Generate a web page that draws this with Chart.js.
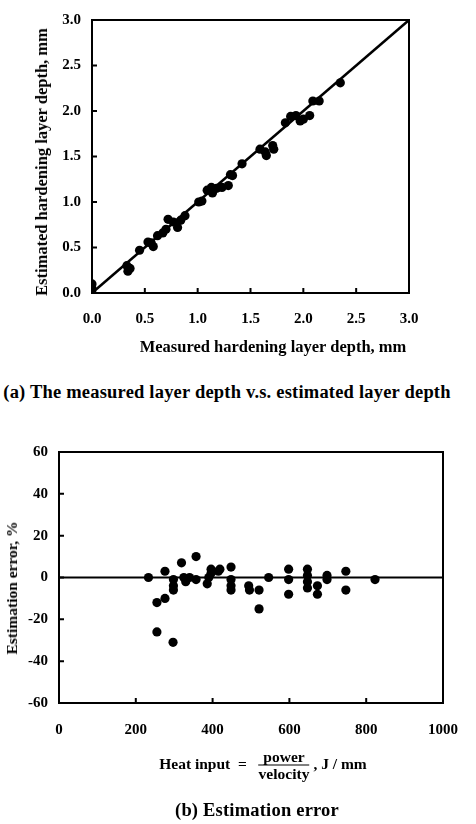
<!DOCTYPE html>
<html>
<head>
<meta charset="utf-8">
<script src="https://cdn.jsdelivr.net/npm/chart.js@4.4.1/dist/chart.umd.min.js"></script>
<style>
html, body { margin: 0; padding: 0; background: #fff; }
#page { position: relative; width: 476px; height: 824px; overflow: hidden;
  font-family: "Liberation Serif", "Times New Roman", serif; color: #000; }
.box { position: absolute; left: 0; }
.lbl { position: absolute; white-space: nowrap; transform: translate(-50%, -50%); font-weight: bold; }
.rot { transform: translate(-50%, -50%) rotate(-90deg); }
.cap { font-size: 18.5px; letter-spacing: 0.2px; }
.frac { display: inline-block; vertical-align: middle; text-align: center; margin: 0 4px; }
.frac span { display: block; line-height: 16px; }
.frac .num { border-bottom: 1.5px solid #000; padding: 0 3px; }
</style>
</head>
<body>
<div id="page">
  <div class="box" style="top:0"><canvas id="chartA" width="476" height="365"></canvas></div>
  <div class="box" style="top:430px"><canvas id="chartB" width="476" height="320"></canvas></div>

  <div class="lbl rot" style="left:42px; top:162px; font-size:16.5px">Estimated hardening layer depth, mm</div>
  <div class="lbl" style="left:273px; top:347px; font-size:16.5px">Measured hardening layer depth, mm</div>
  <div class="lbl cap" style="left:227px; top:392px">(a) The measured layer depth v.s. estimated layer depth</div>

  <div class="lbl rot" style="left:12px; top:588px; font-size:15.5px">Estimation error, %</div>
  <div class="lbl" style="left:263px; top:765px; font-size:15.5px">Heat input &nbsp;=&nbsp; <span class="frac"><span class="num">power</span><span>velocity</span></span>, J / mm</div>
  <div class="lbl cap" style="left:257px; top:810px">(b) Estimation error</div>
</div>
<script>
// (a) measured vs estimated hardening layer depth, mm
var measured  = [0, 0, 0, 0.33, 0.34, 0.36, 0.45, 0.53, 0.58, 0.56, 0.62, 0.67, 0.70,
  0.72, 0.77, 0.81, 0.84, 0.88, 1.01, 1.04, 1.09, 1.13, 1.14, 1.18, 1.23, 1.29,
  1.31, 1.33, 1.42, 1.59, 1.64, 1.65, 1.71, 1.72, 1.83, 1.88, 1.93, 1.97, 2.00,
  2.06, 2.09, 2.15, 2.35];
var estimated = [0, 0.05, 0.10, 0.30, 0.24, 0.27, 0.47, 0.56, 0.51, 0.55, 0.63, 0.66, 0.70,
  0.81, 0.78, 0.72, 0.80, 0.85, 1.00, 1.01, 1.13, 1.16, 1.10, 1.15, 1.16, 1.18,
  1.30, 1.29, 1.42, 1.58, 1.55, 1.51, 1.62, 1.58, 1.87, 1.94, 1.95, 1.89, 1.91,
  1.95, 2.11, 2.11, 2.31];
var idealLine = [0, 3];

// (b) estimation error vs heat input
var heatInput = [233, 255, 255, 276, 276, 297, 298, 298, 298, 319, 325, 330, 340,
  357, 357, 386, 390, 396, 396, 415, 419, 448, 448, 448, 448, 494, 496, 521, 521,
  546, 598, 598, 598, 647, 647, 647, 647, 673, 673, 698, 698, 747, 747, 823];
var errorPct  = [0, -12, -26, -10, 3, -31, -1, -4, -6, 7, 0, -2, 0,
  10, -1, -3, 0, 4, 2, 3, 4, 5, -1, -4, -6, -4, -6, -6, -15,
  0, 4, -1, -8, 4, 1, -2, -5, -4, -8, 1, -1, 3, -6, -1];
var zeroLineX = [0, 1000];

function pts(xs, ys) {
  return xs.map(function (x, i) { return { x: x, y: ys[i] }; });
}

// box round the plot plus small inward tick marks
var frame = {
  id: 'frame',
  afterDraw: function (chart) {
    var ctx = chart.ctx, a = chart.chartArea;
    var xs = chart.scales.x, ys = chart.scales.y;
    ctx.save();
    ctx.strokeStyle = '#000';
    ctx.lineWidth = 2;
    ctx.strokeRect(a.left, a.top, a.right - a.left, a.bottom - a.top);
    ctx.beginPath();
    xs.ticks.forEach(function (t) {
      var p = xs.getPixelForValue(t.value);
      ctx.moveTo(p, a.bottom); ctx.lineTo(p, a.bottom - 5);
    });
    ys.ticks.forEach(function (t) {
      var p = ys.getPixelForValue(t.value);
      ctx.moveTo(a.left, p); ctx.lineTo(a.left + 5, p);
    });
    ctx.stroke();
    ctx.restore();
  }
};

var tickFont = { family: '"Liberation Serif", serif', size: 15, weight: 'bold' };

function axis(min, max, step, fmt, pad, size, isY) {
  return {
    type: 'linear', min: min, max: max,
    grid: { display: false, drawTicks: false },
    border: { display: false },
    ticks: { stepSize: step, color: '#000', font: tickFont, padding: pad,
      callback: fmt },
    afterFit: function (s) { if (isY) s.width = size; else s.height = size; }
  };
}

new Chart(document.getElementById('chartA'), {
  type: 'scatter',
  data: {
    datasets: [{
      data: pts(measured, estimated),
      backgroundColor: '#000', borderWidth: 0, pointRadius: 4.6
    }, {
      data: pts(idealLine, idealLine),
      showLine: true, borderColor: '#000', borderWidth: 2.5, pointRadius: 0
    }]
  },
  options: {
    responsive: false, animation: false,
    layout: { padding: { left: 0, right: 67, top: 12, bottom: 0 } },
    plugins: { legend: { display: false }, tooltip: { enabled: false } },
    scales: {
      x: axis(0, 3, 0.5, function (v) { return v.toFixed(1); }, 17, 72, false),
      y: axis(0, 3, 0.5, function (v) { return v.toFixed(1); }, 11, 92, true)
    }
  },
  plugins: [frame]
});

new Chart(document.getElementById('chartB'), {
  type: 'scatter',
  data: {
    datasets: [{
      data: pts(heatInput, errorPct),
      backgroundColor: '#000', borderWidth: 0, pointRadius: 4.6
    }, {
      data: pts(zeroLineX, [0, 0]),
      showLine: true, borderColor: '#000', borderWidth: 2, pointRadius: 0
    }]
  },
  options: {
    responsive: false, animation: false,
    layout: { padding: { left: 0, right: 17, top: 22, bottom: 0 } },
    plugins: { legend: { display: false }, tooltip: { enabled: false } },
    scales: {
      x: axis(0, 1000, 200, function (v) { return v; }, 18, 47, false),
      y: axis(-60, 60, 20, function (v) { return v; }, 11, 59, true)
    }
  },
  plugins: [frame]
});
</script>
</body>
</html>
